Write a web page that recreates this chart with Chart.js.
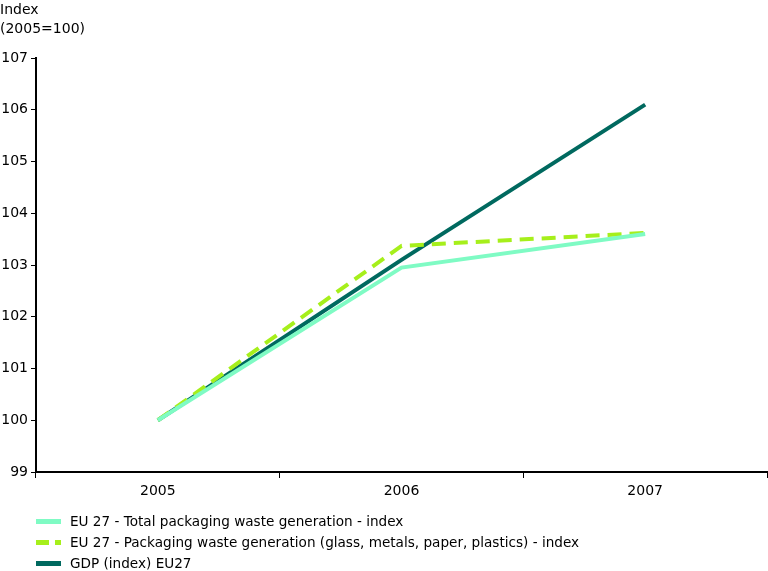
<!DOCTYPE html>
<html>
<head>
<meta charset="utf-8">
<script src="https://cdn.jsdelivr.net/npm/chart.js@4/dist/chart.umd.min.js"></script>
<style>
  html, body { margin: 0; padding: 0; background: #fff; }
  body { width: 768px; height: 571px; position: relative; overflow: hidden; font-family: "DejaVu Sans", Verdana, sans-serif; color: #000; }
  #wrap { position: absolute; left: 0; top: 0; width: 768px; height: 571px; }
  #yTitle { position: absolute; left: 0; top: 0; line-height: 19px; font-size: 14px; }
  #legend { position: absolute; left: 36px; top: 511px; font-size: 13.6px; }
  .item { height: 21px; line-height: 21px; display: flex; align-items: center; }
  .sample { width: 25px; height: 5px; margin-right: 9px; }
</style>
</head>
<body>
<div id="wrap"><canvas id="chart" width="768" height="571"></canvas></div>
<div id="yTitle">Index<br>(2005=100)</div>
<div id="legend"></div>
<script>
// dados
const anos = ["2005", "2006", "2007"];
const totalEmbalagens = [100, 102.95, 103.6];
const embalagensMateriais = [100, 103.37, 103.62];
const pibEU27 = [100, 103.1, 106.1];

const nomes = [
    "EU 27 - Total packaging waste generation - index",
    "EU 27 - Packaging waste generation (glass, metals, paper, plastics) - index",
    "GDP (index) EU27"
];
const cores = ["#7ffbc4", "#a6ef1b", "#00695f"];

const fonte = { family: "'DejaVu Sans', Verdana, sans-serif", size: 14 };

const ctx = document.getElementById("chart").getContext("2d");
new Chart(ctx, {
    type: "line",
    data: {
        labels: anos,
        datasets: [
            { label: nomes[0], data: totalEmbalagens, borderColor: cores[0], borderWidth: 4, pointRadius: 0, tension: 0 },
            { label: nomes[1], data: embalagensMateriais, borderColor: cores[1], borderWidth: 4, borderDash: [14, 8], pointRadius: 0, tension: 0 },
            { label: nomes[2], data: pibEU27, borderColor: cores[2], borderWidth: 4, pointRadius: 0, tension: 0 }
        ]
    },
    options: {
        responsive: false,
        animation: false,
        layout: { padding: { top: 58, right: 1, left: 0, bottom: 0 } },
        plugins: { legend: { display: false }, tooltip: { enabled: false } },
        scales: {
            x: {
                offset: true,
                grid: { offset: true, drawOnChartArea: false, color: "#000", tickLength: 6, tickWidth: 1 },
                border: { color: "#000", width: 2 },
                ticks: { color: "#000", font: fonte, padding: 5 },
                afterFit: (s) => { s.height = 99; }
            },
            y: {
                min: 99,
                max: 107,
                ticks: { stepSize: 1, color: "#000", font: fonte, padding: 3 },
                grid: { drawOnChartArea: false, color: "#000", tickLength: 5, tickWidth: 1 },
                border: { color: "#000", width: 2 },
                afterFit: (s) => { s.width = 36; }
            }
        }
    }
});

// legenda em HTML
const legenda = document.getElementById("legend");
nomes.forEach((nome, i) => {
    const item = document.createElement("div");
    item.className = "item";
    const amostra = document.createElement("span");
    amostra.className = "sample";
    if (i === 1) {
        amostra.style.background = "linear-gradient(to right, " + cores[i] + " 0 13px, transparent 13px 19px, " + cores[i] + " 19px 25px)";
    } else {
        amostra.style.background = cores[i];
    }
    const texto = document.createElement("span");
    texto.textContent = nome;
    item.appendChild(amostra);
    item.appendChild(texto);
    legenda.appendChild(item);
});
</script>
</body>
</html>
